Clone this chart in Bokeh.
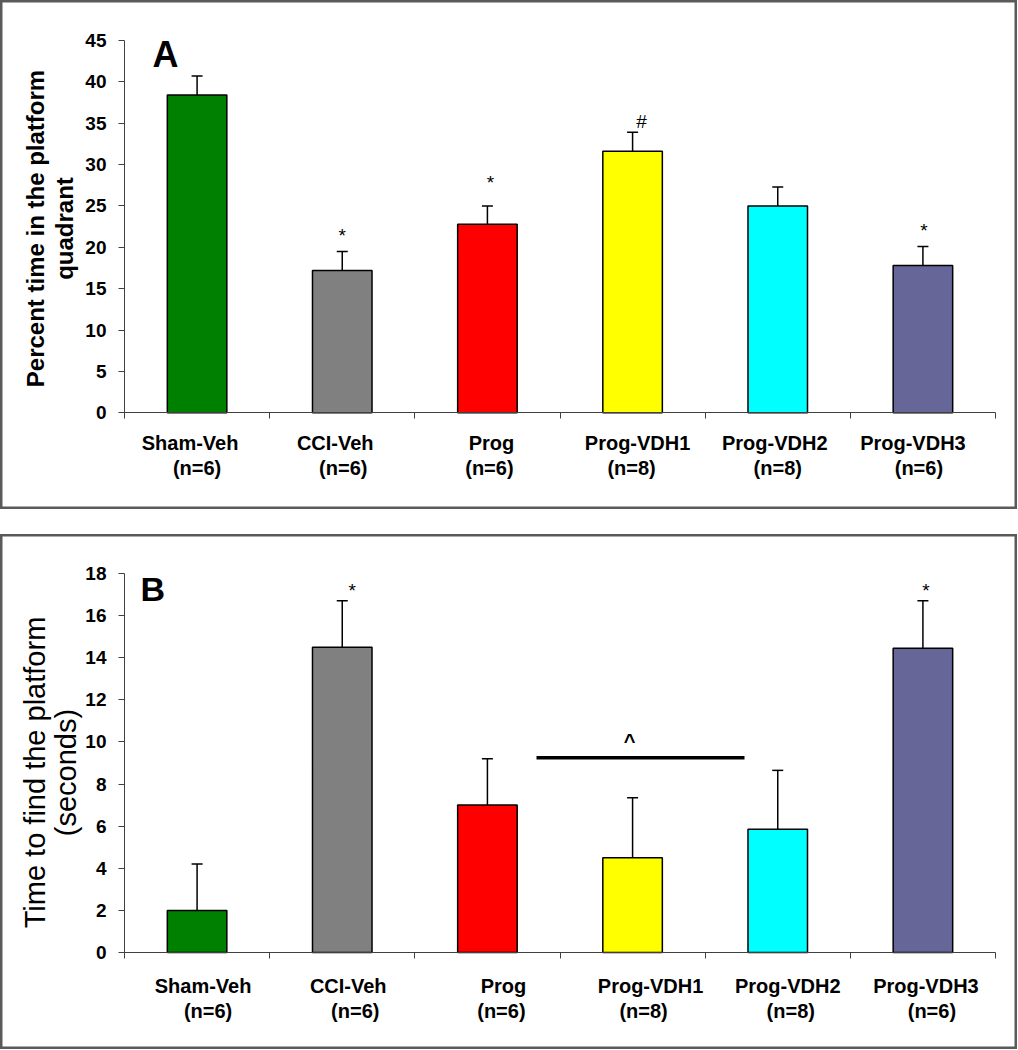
import math
from bokeh.plotting import figure
from bokeh.models import Range1d, FixedTicker, Whisker, TeeHead, ColumnDataSource
from bokeh.layouts import column
from bokeh.embed import file_html
from bokeh.resources import INLINE
from bokeh.core.properties import value

# ---------------- data ----------------
groups = ["Sham-Veh", "CCI-Veh", "Prog", "Prog-VDH1", "Prog-VDH2", "Prog-VDH3"]
group_n = ["(n=6)", "(n=6)", "(n=6)", "(n=8)", "(n=8)", "(n=6)"]
colors = ["#008000", "#808080", "#FF0000", "#FFFF00", "#00FFFF", "#666699"]

pct_mean = [38.4, 17.2, 22.8, 31.6, 25.0, 17.8]
pct_sem = [2.3, 2.3, 2.2, 2.3, 2.3, 2.3]
pct_marks = ["", "*", "*", "#", "", "*"]
pct_ticks = [0, 5, 10, 15, 20, 25, 30, 35, 40, 45]

time_mean = [2.0, 14.5, 7.0, 4.5, 5.85, 14.45]
time_sem = [2.2, 2.2, 2.2, 2.85, 2.8, 2.25]
time_marks = ["", "*", "", "", "", "*"]
time_ticks = [0, 2, 4, 6, 8, 10, 12, 14, 16, 18]
time_bracket_text = "^"
time_bracket_y = 9.25

# ---------------- layout / style constants (pixels) ----------------
FONT = "Liberation Sans"
W = 1017
X0_PX, XN_PX = 124, 995          # left / right end of the category axis


def make_panel(means, sems, marks, ticks, H, y0_px, ytop_px, ylabel, yl_pos, yl_font,
               letter, letter_pos, letter_size, lab_y, lab1_dx, lab2_dx,
               mark_dx, mark_dy):
    n = len(groups)
    ymax = ticks[-1]
    ux = (XN_PX - X0_PX) / n
    uy = (y0_px - ytop_px) / ymax

    def xd(px):
        return (px - X0_PX) / ux

    def yd(py):
        return (y0_px - py) / uy

    p = figure(width=W, height=H,
               x_range=Range1d(xd(0), xd(W)), y_range=Range1d(yd(H), yd(0)),
               output_backend="svg", toolbar_location=None,
               min_border=0, min_border_left=0, min_border_right=0,
               min_border_top=0, min_border_bottom=0)
    p.outline_line_color = "#5a5a5a"
    p.outline_line_width = 4
    p.xgrid.visible = False
    p.ygrid.visible = False
    p.background_fill_color = "white"
    p.border_fill_color = "white"

    xa = p.xaxis[0]
    xa.fixed_location = 0
    xa.bounds = (0, n)
    xa.ticker = FixedTicker(ticks=list(range(n + 1)))
    xa.major_label_overrides = {i: " " for i in range(n + 1)}
    xa.major_label_text_font_size = "1px"
    xa.major_tick_in = 0
    xa.major_tick_out = 6
    xa.minor_tick_line_color = None
    xa.axis_line_color = "#404040"
    xa.major_tick_line_color = "#404040"

    ya = p.yaxis[0]
    ya.fixed_location = 0
    ya.bounds = (0, ymax)
    ya.ticker = FixedTicker(ticks=ticks)
    ya.major_tick_in = 0
    ya.major_tick_out = 6
    ya.minor_tick_line_color = None
    ya.axis_line_color = "#404040"
    ya.major_tick_line_color = "#404040"
    ya.major_label_text_font = FONT
    ya.major_label_text_font_style = "bold"
    ya.major_label_text_font_size = "19px"
    ya.major_label_text_color = "black"
    ya.major_label_standoff = 12

    centers = [i + 0.5 for i in range(n)]
    upper = [m + s for m, s in zip(means, sems)]
    src = ColumnDataSource(dict(x=centers, top=means, up=upper, color=colors))
    p.vbar(x="x", top="top", bottom=0, width=0.41, fill_color="color",
           line_color="black", line_width=1.5, source=src)
    p.add_layout(Whisker(base="x", lower="top", upper="up", source=src,
                         dimension="height", lower_head=None,
                         upper_head=TeeHead(size=11, line_width=1.5, line_color="black"),
                         line_width=1.5, line_color="black", level="overlay"))

    # significance marks (only where one is shown)
    keep = [i for i in range(n) if marks[i]]
    msrc = ColumnDataSource(dict(x=[centers[i] for i in keep], y=[upper[i] for i in keep],
                                 t=[marks[i] for i in keep],
                                 dx=[mark_dx[i] for i in keep],
                                 dy=[mark_dy[i] for i in keep]))
    p.text(x="x", y="y", text="t", x_offset="dx", y_offset="dy", source=msrc,
           text_align="center", text_baseline="alphabetic",
           text_font=value(FONT), text_font_size="19px", text_color="black")

    # category labels (two lines)
    p.text(x=centers, y=[yd(lab_y[0])] * n, text=groups, x_offset=lab1_dx,
           text_align="center", text_baseline="middle", text_font=value(FONT),
           text_font_style="bold", text_font_size="20px", text_color="black")
    p.text(x=centers, y=[yd(lab_y[1])] * n, text=group_n, x_offset=lab2_dx,
           text_align="center", text_baseline="middle", text_font=value(FONT),
           text_font_style="bold", text_font_size="20px", text_color="black")

    # y-axis title
    size, style, lh = yl_font
    p.text(x=[xd(yl_pos[0])], y=[yd(yl_pos[1])], text=[ylabel], angle=math.pi / 2,
           text_align="center", text_baseline="middle", text_font=value(FONT),
           text_font_style=style, text_font_size=size, text_line_height=lh,
           text_color="black")
    # panel letter
    p.text(x=[xd(letter_pos[0])], y=[yd(letter_pos[1])], text=[letter],
           text_align="left", text_baseline="alphabetic", text_font=value(FONT),
           text_font_style="bold", text_font_size=letter_size, text_color="black")
    return p, xd, yd


pA, xdA, ydA = make_panel(
    pct_mean, pct_sem, pct_marks, pct_ticks, 509, 412.3, 40,
    "Percent time in the platform\nquadrant", (49.5, 228), ("24px", "bold", 1.05),
    "A", (152, 54), "36px",
    (442.5, 467.5), [-7, -7, 4, 5, -3, -10], [0, 1, 2, -1, 0, -4],
    [0, 0, 3, 9, 0, 1], [-16, -16, -23, -11, -16, -16])

pB, xdB, ydB = make_panel(
    time_mean, time_sem, time_marks, time_ticks, 515, 418, 39,
    "Time to find the platform\n(seconds)", (50, 238), ("29px", "normal", 0.95),
    "B", (140, 54), "34px",
    (451.5, 476), [6, 6, 16, 18, 10, 3], [11, 13, 14, 11, 13, 9],
    [0, 10, 0, 0, 0, 3], [-10, -10, -10, -10, -10, -10])

# comparison bar spanning Prog .. Prog-VDH2 with "^"
pB.segment(x0=[xdB(536)], y0=[time_bracket_y], x1=[xdB(744)], y1=[time_bracket_y],
           line_color="black", line_width=3.5)
pB.text(x=[xdB(629)], y=[time_bracket_y], text=[time_bracket_text], y_offset=-17,
        text_align="center", text_baseline="alphabetic",
        text_font=value(FONT), text_font_style="bold", text_font_size="20px",
        text_color="black")

layout = column(pA, pB, spacing=25)
open("out.html", "w").write(file_html(layout, INLINE))
